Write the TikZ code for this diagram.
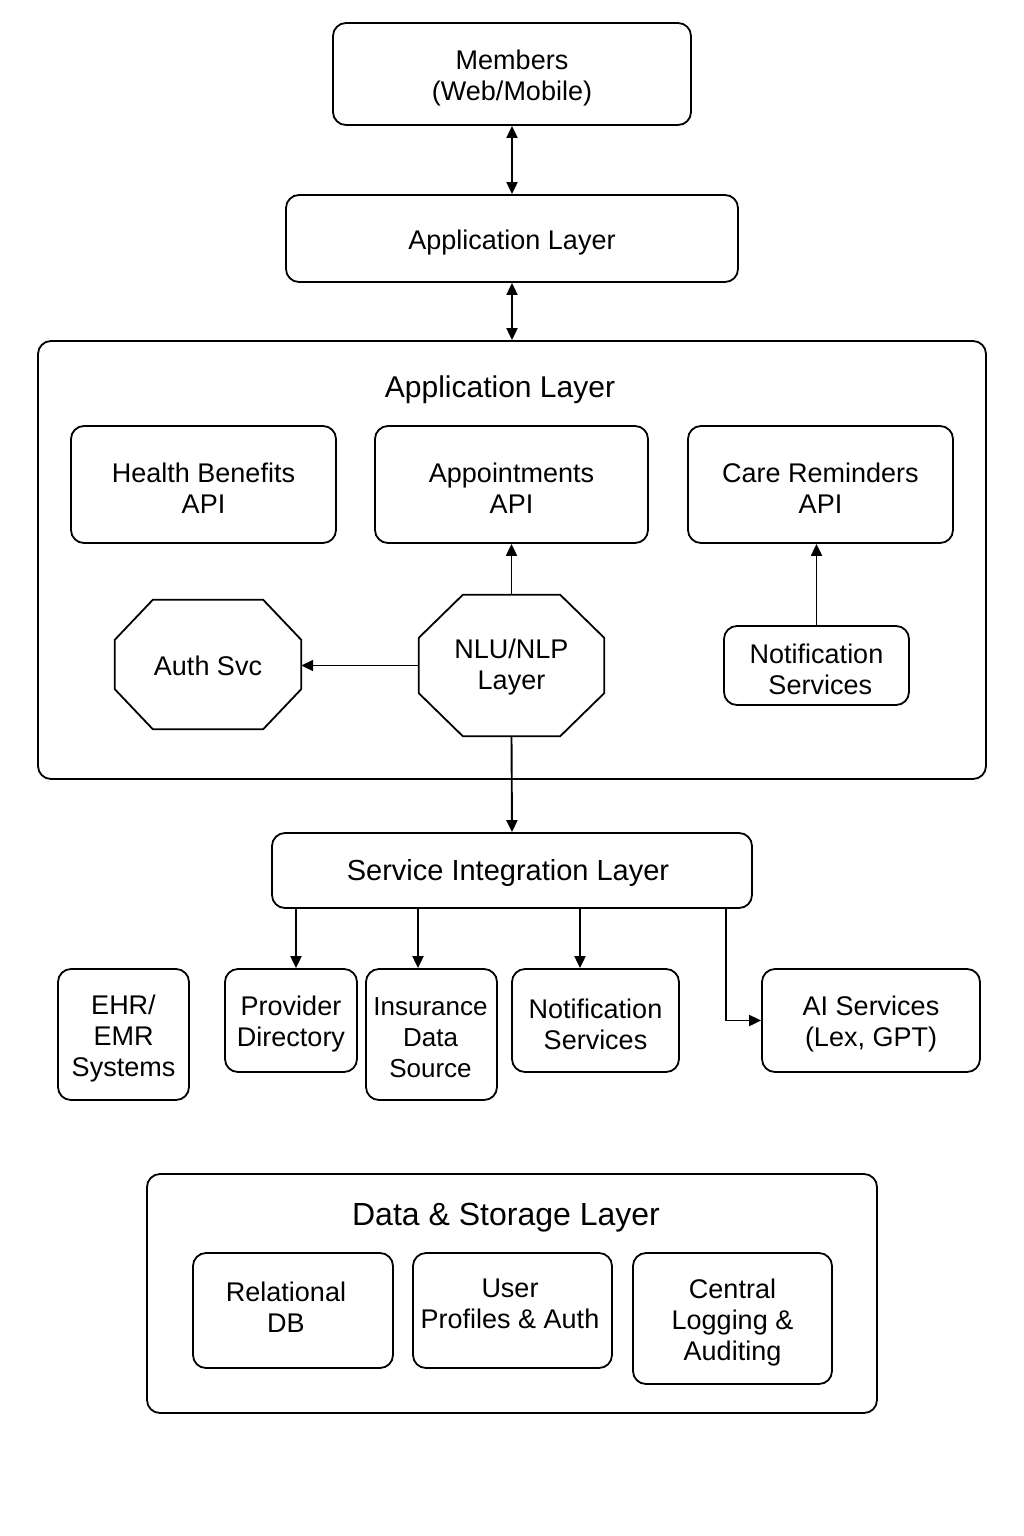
\documentclass[tikz,border=0pt]{standalone}
\usepackage{fontspec}
\setmainfont{Liberation Sans}
\usetikzlibrary{arrows.meta,calc}
\tikzset{
  box/.style={draw, line width=1.8pt, rounded corners=13pt, inner sep=0pt},
  txt/.style={align=center, inner sep=0pt, font=\fontsize{27}{31}\selectfont},
  title/.style={font=\fontsize{30}{34}\selectfont, inner sep=0pt},
  conn/.style={line width=1.9pt, -{Triangle[length=12pt,width=11pt]}},
  biconn/.style={line width=1.9pt, {Triangle[length=12pt,width=11pt]}-{Triangle[length=12pt,width=11pt]}}
}
% box with text: name, x, y, width, height, text
\newcommand{\bx}[6]{\node[box, minimum width=#4pt, minimum height=#5pt] (#1) at (#2,#3) {};
  \node[txt] (#1t) at ([yshift=-4pt]#1.center) {#6};}
\newcommand{\octdraw}[3]{\draw[line width=1.8pt] ([xshift=#2]#1.north west) -- ([xshift=-#2]#1.north east) -- ([yshift=-#3]#1.north east) -- ([yshift=#3]#1.south east) -- ([xshift=-#2]#1.south east) -- ([xshift=#2]#1.south west) -- ([yshift=#3]#1.south west) -- ([yshift=-#3]#1.north west) -- cycle;}
\begin{document}
\begin{tikzpicture}[x=1pt,y=-1pt]
\useasboundingbox[fill=white] (0,0) rectangle (1024,1536);
% top
\bx{members}{512}{74}{358}{102}{Members\\(Web/Mobile)}
\bx{app}{512}{238.5}{452}{87}{Application Layer}
% container
\node[box, minimum width=948pt, minimum height=438pt] (cont) at (512,560) {};
\node[title] (conttitle) at (500,390) {Application Layer};
\bx{health}{203.5}{484.5}{265}{117}{Health Benefits\\API}
\bx{appt}{511.5}{484.5}{273}{117}{Appointments\\API}
\bx{care}{820.5}{484.5}{265}{117}{Care Reminders\\API}
\node[minimum width=186pt, minimum height=129pt, inner sep=0pt] (auth) at (208,664.5) {};
\octdraw{auth}{38pt}{40pt}
\node[txt] (autht) at (208,666) {Auth Svc};
\node[minimum width=185pt, minimum height=141pt, inner sep=0pt] (nlu) at (511.5,665.5) {};
\octdraw{nlu}{44pt}{43pt}
\node[txt] (nlut) at (511.5,667) {NLU/NLP\\Layer};
\bx{notifa}{816.5}{665.5}{185}{79}{Notification\\\ Services}
% service integration
\node[box, minimum width=480pt, minimum height=75pt] (sil) at (512,870.5) {};
\node[txt, font=\fontsize{29}{33}\selectfont] (silt) at (508,873) {Service Integration Layer};
\bx{ehr}{123.5}{1034.5}{131}{131}{EHR/\\EMR\\Systems}
\bx{prov}{291}{1020.5}{132}{103}{Provider\\Directory}
\node[box, minimum width=131pt, minimum height=131pt] (ins) at (431.5,1034.5) {};
\node[txt, font=\fontsize{26}{31}\selectfont] (inst) at (430.5,1038) {Insurance\\Data\\Source};
\bx{notifb}{595.5}{1020.5}{167}{103}{Notification\\Services}
\bx{ai}{871}{1020.5}{218}{103}{AI Services\\(Lex, GPT)}
% data
\node[box, minimum width=730pt, minimum height=239pt] (data) at (512,1293.5) {};
\node[title, font=\fontsize{32}{36}\selectfont] (datatitle) at (506,1218) {Data \& Storage Layer};
\node[box, minimum width=200pt, minimum height=115pt] (rel) at (293,1310.5) {};
\node[txt] (relt) at (286,1307) {Relational\\DB};
\node[box, minimum width=199pt, minimum height=115pt] (user) at (512.5,1310.5) {};
\node[txt] (usert) at (510,1304) {User\\Profiles \& Auth};
\bx{central}{732.5}{1318.5}{199}{131}{Central\\Logging \&\\Auditing}
% connectors
\draw[biconn] (members.south) -- (app.north);
\draw[biconn] (app.south) -- (cont.north);
\draw[conn] (nlu.north) -- (appt.south);
\draw[conn] (notifa.north) -- (notifa.north |- care.south);
\draw[conn] (nlu.west) -- (nlu.west -| auth.east);
\draw[conn] (nlu.south) -- (sil.north);
\draw[conn] (296,0 |- sil.south) -- (296,0 |- prov.north);
\draw[conn] (418,0 |- sil.south) -- (418,0 |- ins.north);
\draw[conn] (580,0 |- sil.south) -- (580,0 |- notifb.north);
\draw[conn] (726,0 |- sil.south) |- (ai.west);
\end{tikzpicture}
\end{document}
